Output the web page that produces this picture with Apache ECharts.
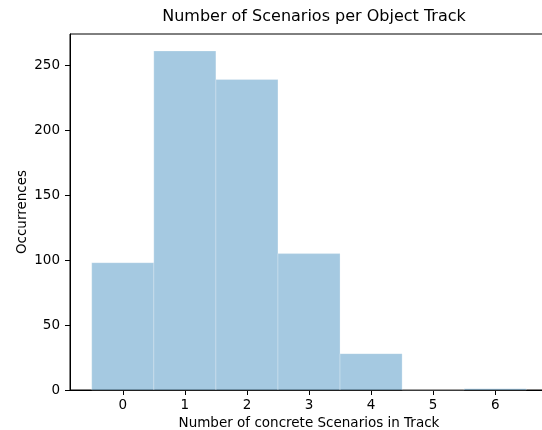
<!DOCTYPE html>
<html>
<head>
<meta charset="utf-8">
<script src="https://cdn.jsdelivr.net/npm/echarts@6/dist/echarts.min.js"></script>
<style>html,body{margin:0;padding:0;background:#fff}#c{width:542px;height:430px}</style>
</head>
<body>
<div id="c"></div>
<script>
var binCenters = [0, 1, 2, 3, 4, 5, 6];
var counts = [98, 261, 239, 105, 28, 0, 1];
var xTicks = [0, 1, 2, 3, 4, 5, 6];
var yTicks = [0, 50, 100, 150, 200, 250];

var chart = echarts.init(document.getElementById('c'), null, {renderer: 'canvas'});
var font = 'DejaVu Sans';
var data = binCenters.map(function (c, i) { return [c, counts[i]]; });

chart.setOption({
  animation: false,
  backgroundColor: '#ffffff',
  title: {
    text: 'Number of Scenarios per Object Track',
    left: 309, top: 4, textAlign: 'center',
    textStyle: {fontFamily: font, fontSize: 16, fontWeight: 'normal', color: '#000'}
  },
  grid: {
    left: 70, top: 34, width: 478, height: 356,
    outerBoundsMode: 'none', containLabel: false,
    show: true, borderColor: '#000', borderWidth: 1, backgroundColor: 'transparent'
  },
  xAxis: {
    type: 'value', min: -0.85, max: 6.85,
    name: 'Number of concrete Scenarios in Track',
    nameLocation: 'middle', nameGap: 26, nameMoveOverlap: false,
    nameTextStyle: {fontFamily: font, fontSize: 13.5, color: '#000'},
    axisLine: {show: true, onZero: false, lineStyle: {color: '#000', width: 1}},
    axisTick: {show: true, inside: false, length: 5, lineStyle: {color: '#000'}, customValues: xTicks},
    axisLabel: {fontFamily: font, fontSize: 13.5, color: '#000', margin: 8, customValues: xTicks},
    splitLine: {show: false}
  },
  yAxis: {
    type: 'value', min: 0, max: 274.05, interval: 50,
    name: 'Occurrences', nameLocation: 'middle', nameGap: 41, nameMoveOverlap: false,
    nameTextStyle: {fontFamily: font, fontSize: 13.5, color: '#000'},
    axisLine: {show: true, onZero: false, lineStyle: {color: '#000', width: 1}},
    axisTick: {show: true, inside: false, length: 5, lineStyle: {color: '#000'}, customValues: yTicks},
    axisLabel: {fontFamily: font, fontSize: 13.5, color: '#000', margin: 10, customValues: yTicks},
    splitLine: {show: false}
  },
  series: [{
    type: 'custom',
    data: data,
    renderItem: function (params, api) {
      var x = api.value(0), v = api.value(1);
      var p0 = api.coord([x - 0.5, 0]);
      var p1 = api.coord([x + 0.5, v]);
      return {
        type: 'rect',
        shape: {x: p0[0], y: p1[1], width: p1[0] - p0[0], height: p0[1] - p1[1]},
        style: {fill: 'rgba(31,119,180,0.4)', stroke: 'rgba(255,255,255,0.25)', lineWidth: 1}
      };
    }
  }]
});
</script>
</body>
</html>
